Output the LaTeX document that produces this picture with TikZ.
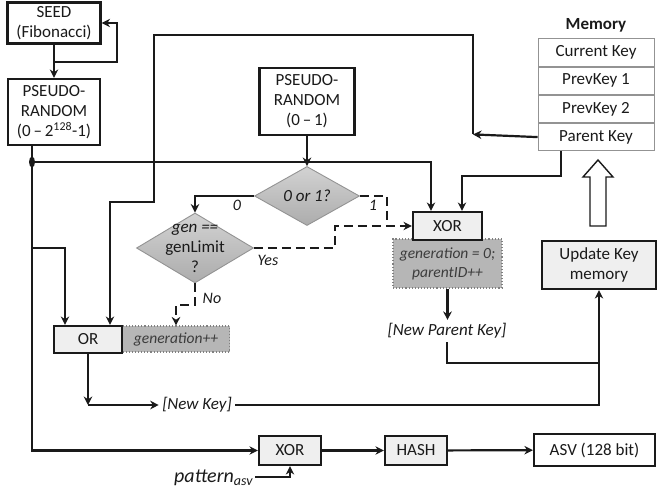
\documentclass[tikz,border=0pt]{standalone}
\usepackage{fontspec}
\setmainfont{Carlito}
\usetikzlibrary{arrows.meta, positioning, shapes.geometric}

\definecolor{ink}{HTML}{1A1A1A}
\definecolor{lightbox}{HTML}{EFEFEF}
\definecolor{notebox}{HTML}{B6B6B6}

\begin{document}
\begin{tikzpicture}[x=1pt, y=-1pt, font=\fontsize{17}{20}\selectfont, text=ink,
  >={Stealth[length=8.5pt,width=8.5pt]},
  wire/.style={draw=ink, line width=2.2pt},
  dashwire/.style={wire, dash pattern=on 9pt off 5pt},
  block/.style={draw=ink, line width=2.2pt, fill=white, align=center, inner sep=0pt},
  opbox/.style={block, fill=lightbox},
  decision/.style={diamond, draw=gray!85, line width=0.9pt, top color=gray!35, bottom color=gray!65, inner sep=0pt, font=\fontsize{17}{20}\selectfont\itshape},
  note/.style={draw=gray, dotted, line width=1.1pt, fill=notebox, align=center, inner sep=0pt, text=ink!85, font=\fontsize{15.5}{19}\selectfont\itshape},
  memrow/.style={draw=gray!85, line width=0.9pt, minimum width=116, minimum height=27.3, inner sep=0pt},
  yesno/.style={font=\fontsize{16}{18}\selectfont\itshape}]
\useasboundingbox (0,0) rectangle (657,490);

\node [block, minimum width=93, minimum height=41] (seed) at (54,23) {SEED\\(Fibonacci)};
\node [block, minimum width=92, minimum height=66] (prng) at (54,112) {PSEUDO-\\RANDOM\\(0\,–\,2\textsuperscript{128}-1)};
\node [block, minimum width=95, minimum height=67] (rnd) at (307,101.5) {PSEUDO-\\RANDOM\\(0\,–\,1)};

\node [font=\fontsize{17}{19}\selectfont\bfseries] (memtitle) at (596,25) {Memory};
\node [memrow] (cur) at (596,52.5) {Current Key};
\node [memrow, below=0pt of cur] (prev1) {PrevKey 1};
\node [memrow, below=0pt of prev1] (prev2) {PrevKey 2};
\node [memrow, below=0pt of prev2] (pkey) {Parent Key};

\node [decision, minimum width=105, minimum height=45] (choice) at (307,196) {0 or 1?};
\node [decision, minimum width=117, minimum height=70,
  label={[align=center, inner sep=0pt]center:{\textit{gen ==}\\genLimit\\?}}] (limit) at (195,248) {};

\node [note, minimum width=109, minimum height=49] (reset) at (447.5,263.5) {generation = 0;\\parentID++};
\node [opbox, minimum width=69, minimum height=28] (xor) at (447.5,226) {XOR};
\node [font=\fontsize{17}{19}\selectfont\itshape] (npk) at (447,331) {[New Parent Key]};
\node [opbox, minimum width=114, minimum height=48] (update) at (599,265) {Update Key\\memory};

\node [note, minimum width=107, minimum height=26] (inc) at (176,339) {generation++};
\node [opbox, minimum width=68, minimum height=27] (or) at (88,339.5) {OR};
\node [font=\fontsize{17}{19}\selectfont\itshape] (newkey) at (197,405) {[New Key]};

\node [opbox, minimum width=62, minimum height=29] (xor2) at (290,450.5) {XOR};
\node [opbox, minimum width=62, minimum height=29] (hash) at (416,450.5) {HASH};
\node [block, minimum width=121, minimum height=32] (asv) at (594.5,450) {ASV (128 bit)};
\node [font=\fontsize{20}{22}\selectfont\itshape, anchor=base west, inner sep=2pt] (pat) at (172,482) {pattern\textsubscript{asv}};

\node [yesno] (zero) at (237,205) {0};
\node [yesno] (one) at (373,205) {1};
\node [yesno] (yes) at (268,260) {Yes};
\node [yesno] (no) at (212,298) {No};

\coordinate (seedtap) at (54,62);
\coordinate (j) at (32,162);
\coordinate (orleft) at (32,248);
\coordinate (pkbend) at (500,176);
\coordinate (loopin) at (473,134.4);
\coordinate (topleft) at (154,35);
\coordinate (orbend) at (154,202);
\coordinate (onebend) at (387,226);
\coordinate (yesbend) at (335,226);
\coordinate (nobend) at (195,305);
\coordinate (okey) at (88,405);
\coordinate (merge) at (599,363);

\draw [wire, ->] (seed) -- (prng);
\draw [wire, ->] (seedtap) -| (117,23) -- (seed.east);
\draw [wire] (prng.south -| j) -- (j);
\fill [ink] (j) ellipse (3 and 5.5);
\draw [wire, ->] (j) -| ([xshift=-16.5pt]xor.north);
\draw [wire, ->] (j) |- (xor2.west);
\draw [wire, ->] (orleft) -| ([xshift=-23pt]or.north);
\draw [wire, ->] ([xshift=-35pt]pkey.south) |- (pkbend) -| ([xshift=14.5pt]xor.north);
\draw [wire, ->] (pkey.west) -- (loopin);
\draw [wire, ->] (loopin) |- (topleft) -- (orbend) -| ([xshift=22pt]or.north);

\draw [wire, ->] (rnd) -- (choice);
\draw [wire, ->] (choice.west) -| (limit.north);
\draw [dashwire] (choice.east) -| (onebend);
\draw [dashwire, ->] (limit.east) -| (yesbend) -- (xor.west);
\draw [dashwire, ->] (limit.south) -- (nobend) -| (inc.north);

\draw [wire, ->] (reset.south) -- (reset.south |- npk.north);
\draw [wire] (npk.south) |- (merge);
\draw [wire, ->] (or.south) -- (okey);
\draw [wire, ->] (okey) -- (newkey.west);
\draw [wire, ->] (newkey.east) -| (update.south);

\draw [wire, ->] (xor2) -- (hash);
\draw [wire, ->] (hash) -- (asv);
\draw [wire, ->] (pat.east) -| (xor2.south);

\draw [draw=ink, line width=1.4pt, fill=white] (590,226) -- (590,177) -- (583,177) -- (598,160) -- (613,177) -- (606,177) -- (606,226) -- cycle;
\end{tikzpicture}
\end{document}
